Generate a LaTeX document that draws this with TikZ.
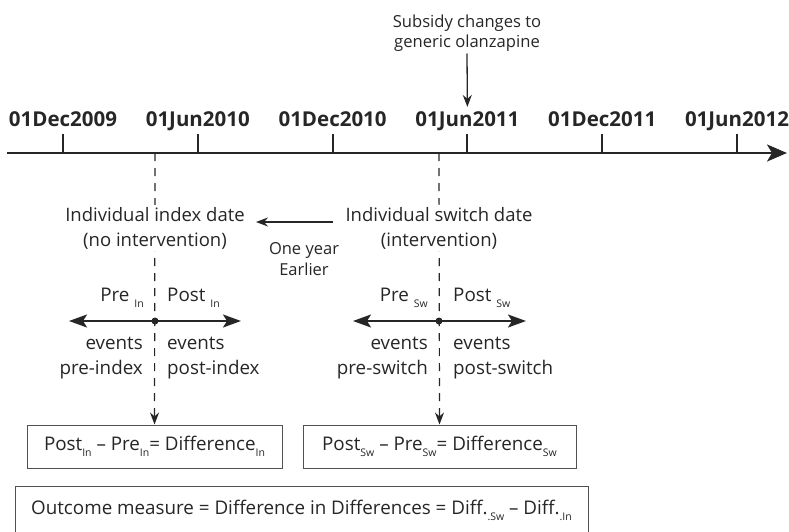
\documentclass[tikz,border=0pt]{standalone}
\usepackage{fontspec}
\setmainfont{Open Sans}
\usetikzlibrary{arrows.meta,positioning}
\definecolor{ink}{HTML}{262626}
\newcommand{\lowsub}[1]{\raisebox{-6pt}{\fontsize{10.5}{10.5}\selectfont #1}}

\begin{document}
\begin{tikzpicture}[x=1pt,y=-1pt]
    \tikzstyle{axisline}=[draw=ink, line width=2.3pt, -{Stealth[length=20pt,width=17pt,inset=5pt]}]
    \tikzstyle{tickline}=[draw=ink, line width=2pt]
    \tikzstyle{datelabel}=[font=\fontsize{20.5}{22}\selectfont\bfseries, text=ink, anchor=base, inner sep=1pt]
    \tikzstyle{datetext}=[font=\fontsize{18.5}{25}\selectfont, text=ink, align=center, fill=white, inner sep=2pt]
    \tikzstyle{notetext}=[font=\fontsize{16.6}{20}\selectfont, text=ink, align=center, inner sep=2pt]
    \tikzstyle{smalltext}=[font=\fontsize{16.5}{21}\selectfont, text=ink, align=center, inner sep=0pt]
    \tikzstyle{sidetext}=[font=\fontsize{18.8}{25}\selectfont, text=ink, inner sep=0pt]
    \tikzstyle{dashline}=[draw=ink, line width=1.2pt, dash pattern=on 8pt off 7pt, -{Stealth[length=12pt,width=9pt]}]
    \tikzstyle{spanarrow}=[draw=ink, line width=2pt, -{Stealth[length=18pt,width=13pt,inset=4pt]}]
    \tikzstyle{diffbox}=[draw=ink!80, line width=1pt, font=\fontsize{18.8}{24}\selectfont, text=ink, inner sep=0pt]
    \useasboundingbox (0,0) rectangle (789,532);
    \clip (0,0) rectangle (789,532);

    % time axis with half-year ticks
    \coordinate (axisL) at (7,153);
    \coordinate (axisR) at (787,153);
    \draw[axisline] (axisL) -- (axisR);
    \foreach \lbl [count=\i] in {01Dec2009,01Jun2010,01Dec2010,01Jun2011,01Dec2011,01Jun2012}{
      \coordinate (tick\i) at ({63+134.8*(\i-1)},153);
      \draw[tickline] (tick\i) -- ++(0,-19);
      \node[datelabel] (date\i) at ({63+134.8*(\i-1)},126) {\lbl};
    }

    \node[notetext] (subsidy) at (467,33) {Subsidy changes to\\generic olanzapine};
    \draw[draw=ink, line width=1.3pt, -{Stealth[length=12pt,width=9pt]}, shorten >=3pt] (subsidy.south) -- (date4.north);

    % result boxes
    \node[diffbox, minimum width=255, minimum height=43] (diffIn) at (154.5,446.5)
      {Post\lowsub{In} – Pre\lowsub{In}= Difference\lowsub{In}};
    \node[diffbox, minimum width=273, minimum height=43] (diffSw) at (439.5,446.5)
      {Post\lowsub{Sw} – Pre\lowsub{Sw}= Difference\lowsub{Sw}};
    \node[diffbox, minimum width=573, minimum height=48] (outcome) at (301.5,510)
      {Outcome measure = Difference in Differences = Diff.\lowsub{.Sw} – Diff.\lowsub{.In}};

    % dashed date lines
    \coordinate (indexcut) at (155,153);
    \coordinate (switchcut) at (439,153);
    \draw[dashline] (indexcut) -- (diffIn.north);
    \draw[dashline] (switchcut) -- (diffSw.north);

    \node[datetext] (indexdate) at (155,228) {Individual index date\\(no intervention)};
    \node[datetext] (switchdate) at (439,228) {Individual switch date\\(intervention)};

    \coordinate (yearA) at (333,222);
    \coordinate (yearB) at (256,222);
    \draw[draw=ink, line width=1.2pt, -{Stealth[length=12pt,width=9pt]}] (yearA) -- (yearB);
    \node[smalltext] (oneyear) at (304,259) {One year\\Earlier};

    % before / after spans
    \coordinate (indexmid) at (155,321);
    \coordinate (indexpre) at (69,321);
    \coordinate (indexpost) at (241,321);
    \draw[spanarrow] (indexmid) -- (indexpre);
    \draw[spanarrow] (indexmid) -- (indexpost);
    \fill[ink] (indexmid) circle (3.5);
    \coordinate (switchmid) at (439,321);
    \coordinate (switchpre) at (353,321);
    \coordinate (switchpost) at (526,321);
    \draw[spanarrow] (switchmid) -- (switchpre);
    \draw[spanarrow] (switchmid) -- (switchpost);
    \fill[ink] (switchmid) circle (3.5);

    \node[sidetext, anchor=base east] (preIn) at (144,301) {Pre \lowsub{In}};
    \node[sidetext, anchor=base west] (postIn) at (167,301) {Post \lowsub{In}};
    \node[sidetext, anchor=base east] (preSw) at (428,301) {Pre \lowsub{Sw}};
    \node[sidetext, anchor=base west] (postSw) at (453,301) {Post \lowsub{Sw}};

    \node[sidetext, align=right, anchor=east] (eventsPreIn) at (143,358) {events\\pre-index};
    \node[sidetext, align=left, anchor=west] (eventsPostIn) at (167,358) {events\\post-index};
    \node[sidetext, align=right, anchor=east] (eventsPreSw) at (428,358) {events\\pre-switch};
    \node[sidetext, align=left, anchor=west] (eventsPostSw) at (453,358) {events\\post-switch};
  \end{tikzpicture}
\end{document}
